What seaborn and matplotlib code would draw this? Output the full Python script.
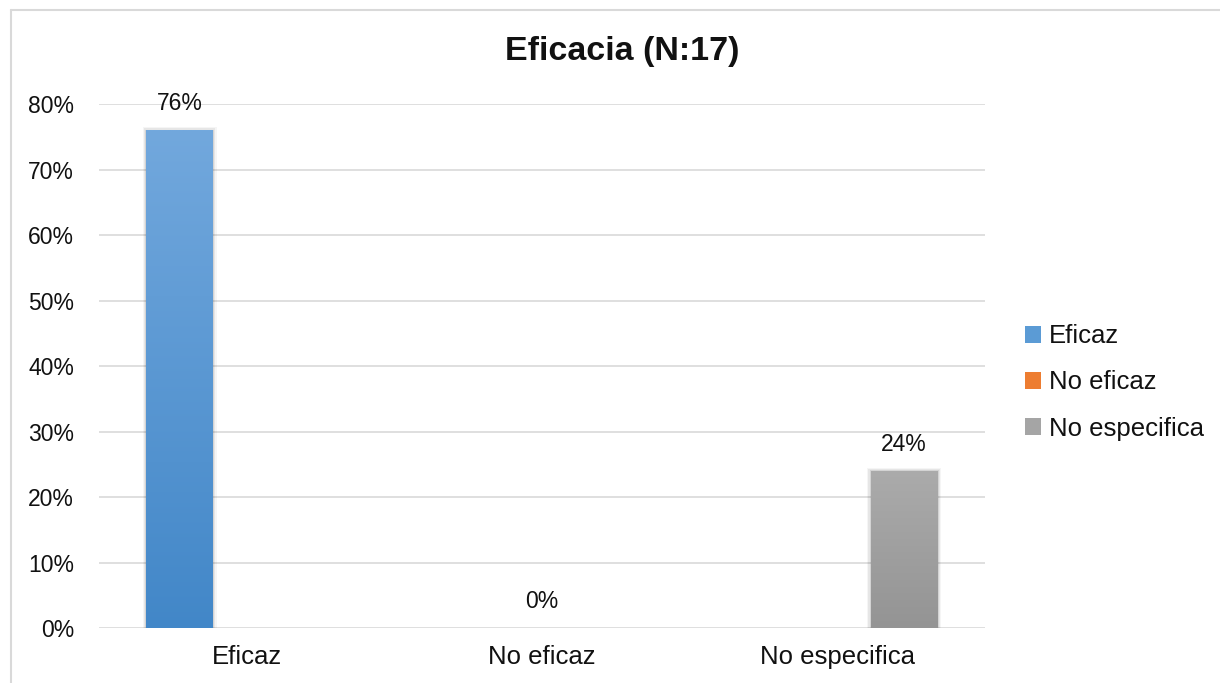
import numpy as np
import pandas as pd
import matplotlib
matplotlib.use("Agg")
import matplotlib.pyplot as plt
from matplotlib.lines import Line2D
from matplotlib.patches import Rectangle
from matplotlib.colors import LinearSegmentedColormap
import seaborn as sns

# Data
categories = ["Eficaz", "No eficaz", "No especifica"]
values = [0.76, 0.00, 0.24]
title = "Eficacia (N:17)"
yticks = [0.0, 0.1, 0.2, 0.3, 0.4, 0.5, 0.6, 0.7, 0.8]

# Gradient colours per series (top, bottom)
grad_top = ["#72a8dd", "#f29b60", "#ababab"]
grad_bottom = ["#4287c8", "#e2701f", "#949494"]
solid = ["#5b9bd5", "#ed7d31", "#a5a5a5"]

sns.set_theme(style="white")
plt.rcParams["font.family"] = ["Liberation Sans", "DejaVu Sans"]
text_color = "#111111"

fig = plt.figure(figsize=(12.2, 6.83), dpi=100)
ax = fig.add_axes([0.0811, 0.0805, 0.7262, 0.7672])

df = pd.DataFrame({"categoria": categories, "valor": values})
sns.barplot(data=df, x="categoria", y="valor", hue="categoria",
            order=categories, hue_order=categories, dodge=True,
            width=0.68, palette=solid, legend=False, ax=ax,
            linewidth=0, saturation=1)

ax.set_ylim(0, 0.8)
ax.set_xlim(-0.5, 2.5)
ax.set_yticks(yticks)
ax.set_yticklabels([f"{t:.0%}" for t in yticks], fontsize=16.5, color=text_color)
ax.tick_params(axis="y", length=0, pad=18)
ax.tick_params(axis="x", length=0, pad=12, labelsize=18.5, labelcolor=text_color)
ax.set_xlabel("")
ax.set_ylabel("")
ax.yaxis.grid(True, color="#d9d9d9", linewidth=1.2)
ax.set_axisbelow(True)
for s in ax.spines.values():
    s.set_visible(False)

# Vertical gradient fill, soft shadow and value label for each bar
for i, container in enumerate(ax.containers):
    cmap = LinearSegmentedColormap.from_list(f"g{i}", [grad_bottom[i], grad_top[i]])
    for patch in container:
        h = patch.get_height()
        if not np.isfinite(h):
            continue
        x0 = patch.get_x()
        w = patch.get_width()
        if h > 0:
            for k, a in enumerate([0.04, 0.06, 0.08]):
                d = 0.012 - k * 0.004
                sh = Rectangle((x0 - d, -0.003), w + 2 * d, h + 0.008 - k * 0.002,
                               facecolor="#000000", alpha=a, linewidth=0, zorder=1.5)
                ax.add_patch(sh)
            grad = np.linspace(0, 1, 256).reshape(-1, 1)
            im = ax.imshow(grad, cmap=cmap, origin="lower", aspect="auto",
                           extent=(x0, x0 + w, 0, h), zorder=2.5)
            im.set_clip_path(patch)
        patch.set_zorder(2)
    labels = [f"{v:.0%}" if np.isfinite(v) else "" for v in container.datavalues]
    ax.bar_label(container, labels=labels, padding=11, fontsize=16.5, color=text_color)

ax.set_xlim(-0.5, 2.5)
ax.set_ylim(0, 0.8)

fig.text(0.5098, 0.924, title, ha="center", va="center", fontsize=24.5,
         fontweight="bold", color=text_color)

handles = [Rectangle((0, 0), 1, 1, facecolor=c, edgecolor="none") for c in solid]
fig.legend(handles, categories, loc="center left", bbox_to_anchor=(0.8215, 0.44),
           frameon=False, fontsize=18.5, handlelength=0.62, handleheight=0.62,
           handletextpad=0.3, labelspacing=0.86, labelcolor=text_color)

# Outer frame lines
fig.add_artist(Line2D([11 / 1220, 1.0], [1 - 10 / 683, 1 - 10 / 683],
                      transform=fig.transFigure, color="#d9d9d9", linewidth=1.5))
fig.add_artist(Line2D([11 / 1220, 11 / 1220], [0, 1 - 10 / 683],
                      transform=fig.transFigure, color="#d9d9d9", linewidth=1.5))

fig.savefig("out.png", dpi=100, facecolor="white")
